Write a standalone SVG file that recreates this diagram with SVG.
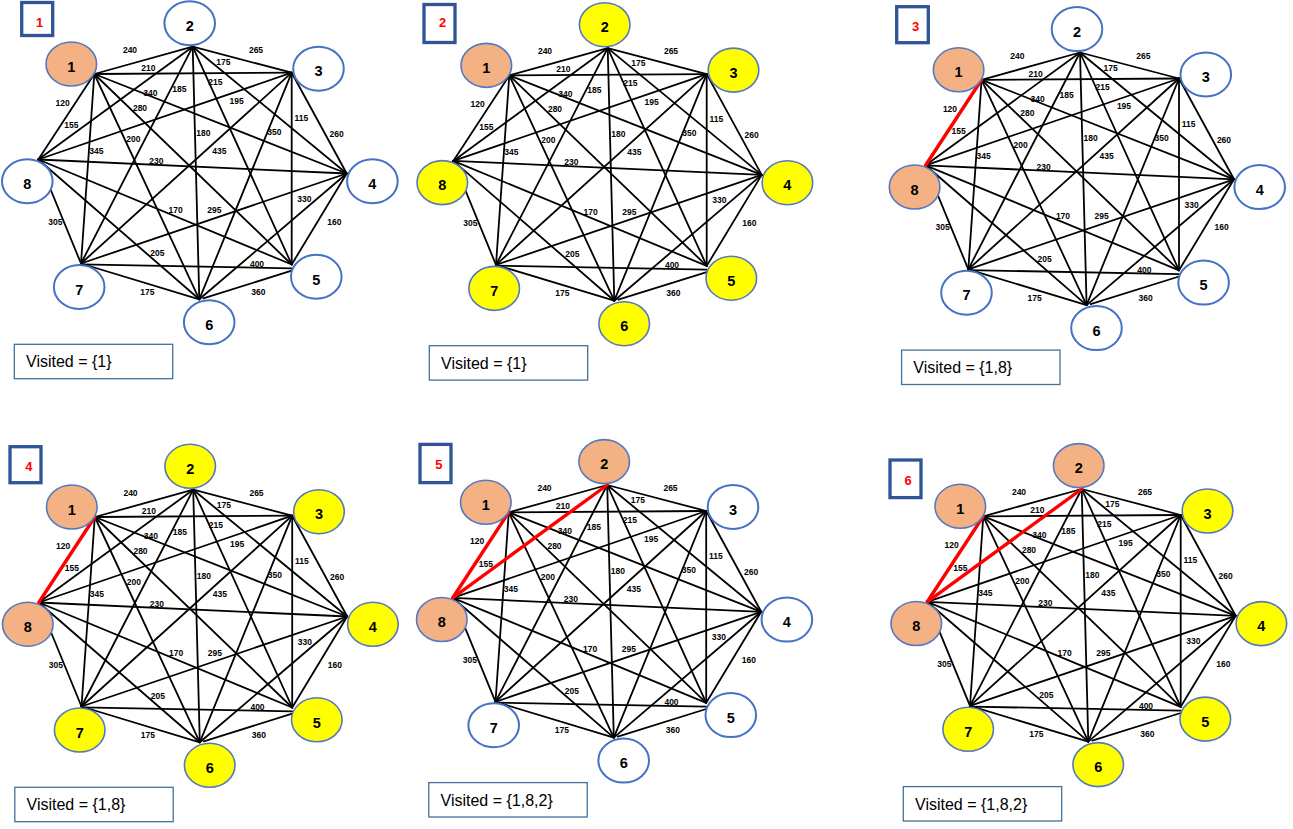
<svg xmlns="http://www.w3.org/2000/svg" xmlns:xlink="http://www.w3.org/1999/xlink" width="1293" height="829" viewBox="0 0 1293 829">
<style>
.e{stroke:#000;stroke-width:1.8;stroke-linecap:round}
.r{stroke:#FF0000;stroke-width:3.4;stroke-linecap:round}
.w{font-family:"Liberation Sans",Arial,sans-serif;font-weight:bold;font-size:8.5px;text-anchor:middle;fill:#000}
.nw{fill:#fff;stroke:#4472C4;stroke-width:2}
.no{fill:#F4B183;stroke:#5479C2;stroke-width:1.6}
.ny{fill:#FFFF00;stroke:#5479C2;stroke-width:1.6}
.nt{font-family:"Liberation Sans",Arial,sans-serif;font-weight:bold;font-size:14.5px;text-anchor:middle;fill:#000}
.sb{fill:#fff;stroke:#2F5597;stroke-width:3.3}
.st{font-family:"Liberation Sans",Arial,sans-serif;font-weight:bold;font-size:13px;text-anchor:middle;fill:#FF0000}
.vb{fill:#fff;stroke:#41719C;stroke-width:1.3}
.vt{font-family:"Liberation Sans",Arial,sans-serif;font-size:16px;fill:#000}
</style>
<defs>
<g id="edges">
<line class="e" x1="94.3" y1="74" x2="192.7" y2="46.7"/>
<line class="e" x1="94.3" y1="74" x2="291.7" y2="72.7"/>
<line class="e" x1="94.3" y1="74" x2="346.7" y2="173.5"/>
<line class="e" x1="94.3" y1="74" x2="291.7" y2="264.5"/>
<line class="e" x1="94.3" y1="74" x2="199.3" y2="299.3"/>
<line class="e" x1="94.3" y1="74" x2="81" y2="263.5"/>
<line class="e" x1="94.3" y1="74" x2="38.3" y2="159.5"/>
<line class="e" x1="192.7" y1="46.7" x2="291.7" y2="72.7"/>
<line class="e" x1="192.7" y1="46.7" x2="346.7" y2="173.5"/>
<line class="e" x1="192.7" y1="46.7" x2="291.7" y2="264.5"/>
<line class="e" x1="192.7" y1="46.7" x2="199.3" y2="299.3"/>
<line class="e" x1="192.7" y1="46.7" x2="81" y2="263.5"/>
<line class="e" x1="192.7" y1="46.7" x2="38.3" y2="159.5"/>
<line class="e" x1="291.7" y1="72.7" x2="346.7" y2="173.5"/>
<line class="e" x1="291.7" y1="72.7" x2="291.7" y2="264.5"/>
<line class="e" x1="291.7" y1="72.7" x2="199.3" y2="299.3"/>
<line class="e" x1="291.7" y1="72.7" x2="81" y2="263.5"/>
<line class="e" x1="291.7" y1="72.7" x2="38.3" y2="159.5"/>
<line class="e" x1="346.7" y1="173.5" x2="291.7" y2="264.5"/>
<line class="e" x1="346.7" y1="173.5" x2="199.3" y2="299.3"/>
<line class="e" x1="346.7" y1="173.5" x2="81" y2="263.5"/>
<line class="e" x1="346.7" y1="173.5" x2="38.3" y2="159.5"/>
<line class="e" x1="291.7" y1="270.7" x2="203.3" y2="298.3"/>
<line class="e" x1="291.7" y1="268.3" x2="81" y2="264.3"/>
<line class="e" x1="291.7" y1="264.5" x2="38.3" y2="159.5"/>
<line class="e" x1="199.3" y1="299.3" x2="81" y2="263.5"/>
<line class="e" x1="199.3" y1="299.3" x2="38.3" y2="159.5"/>
<line class="e" x1="81" y1="263.5" x2="38.3" y2="159.5"/>
</g>
<g id="weights" class="w">
<text x="130" y="53">240</text>
<text x="256" y="53">265</text>
<text x="148.3" y="71">210</text>
<text x="223.3" y="65">175</text>
<text x="150.3" y="96">340</text>
<text x="179.3" y="92">185</text>
<text x="215.3" y="84.7">215</text>
<text x="236.7" y="103.7">195</text>
<text x="62.7" y="106">120</text>
<text x="140" y="110.7">280</text>
<text x="71.3" y="128.3">155</text>
<text x="301.3" y="121">115</text>
<text x="336.7" y="137">260</text>
<text x="203.3" y="135.7">180</text>
<text x="274.3" y="135">350</text>
<text x="133.3" y="142">200</text>
<text x="96.3" y="153.7">345</text>
<text x="219.3" y="153.7">435</text>
<text x="156.3" y="164">230</text>
<text x="304.3" y="202">330</text>
<text x="175.7" y="213.3">170</text>
<text x="214.3" y="213.3">295</text>
<text x="55.3" y="224.7">305</text>
<text x="334.3" y="224.7">160</text>
<text x="157.3" y="256">205</text>
<text x="257" y="267">400</text>
<text x="147.3" y="295">175</text>
<text x="258.3" y="295">360</text>
</g>
</defs>

<!-- Panel 1 -->
<g id="panel1" transform="translate(0,0)">
<g id="p1-connectors"><use xlink:href="#edges"/><use xlink:href="#weights"/></g>
<g id="p1-n1"><ellipse class="no" cx="71.3" cy="64" rx="25.3" ry="22"/><text class="nt" x="71.3" y="71.7">1</text></g>
<g id="p1-n2"><ellipse class="nw" cx="189.7" cy="23.3" rx="25.3" ry="22"/><text class="nt" x="189.7" y="31">2</text></g>
<g id="p1-n3"><ellipse class="nw" cx="318.5" cy="68.7" rx="25.3" ry="22"/><text class="nt" x="318.5" y="76.4">3</text></g>
<g id="p1-n4"><ellipse class="nw" cx="372.4" cy="181.3" rx="25.3" ry="22"/><text class="nt" x="372.4" y="189">4</text></g>
<g id="p1-n5"><ellipse class="nw" cx="316.3" cy="276.8" rx="25.3" ry="22"/><text class="nt" x="316.3" y="284.5">5</text></g>
<g id="p1-n6"><ellipse class="nw" cx="209.2" cy="322.3" rx="25.3" ry="22"/><text class="nt" x="209.2" y="330">6</text></g>
<g id="p1-n7"><ellipse class="nw" cx="79.2" cy="287" rx="25.3" ry="22"/><text class="nt" x="79.2" y="294.7">7</text></g>
<g id="p1-n8"><ellipse class="nw" cx="27.3" cy="181.2" rx="25.3" ry="22"/><text class="nt" x="27.3" y="188.9">8</text></g>
<g id="p1-visited"><rect class="vb" x="14.3" y="344.3" width="158.4" height="34.4"/><text class="vt" x="26" y="367.3">Visited = {1}</text></g>
</g>
<g id="p1-step"><rect class="sb" x="21.7" y="2.5" width="31" height="33"/><text class="st" x="39.5" y="26.8">1</text></g>

<!-- Panel 2 -->
<g id="panel2" transform="translate(415,1.4)">
<g id="p2-connectors"><use xlink:href="#edges"/><use xlink:href="#weights"/></g>
<g id="p2-n1"><ellipse class="no" cx="71.3" cy="64" rx="25.3" ry="22"/><text class="nt" x="71.3" y="71.7">1</text></g>
<g id="p2-n2"><ellipse class="ny" cx="189.7" cy="23.3" rx="25.3" ry="22"/><text class="nt" x="189.7" y="31">2</text></g>
<g id="p2-n3"><ellipse class="ny" cx="318.5" cy="68.7" rx="25.3" ry="22"/><text class="nt" x="318.5" y="76.4">3</text></g>
<g id="p2-n4"><ellipse class="ny" cx="372.4" cy="181.3" rx="25.3" ry="22"/><text class="nt" x="372.4" y="189">4</text></g>
<g id="p2-n5"><ellipse class="ny" cx="316.3" cy="276.8" rx="25.3" ry="22"/><text class="nt" x="316.3" y="284.5">5</text></g>
<g id="p2-n6"><ellipse class="ny" cx="209.2" cy="322.3" rx="25.3" ry="22"/><text class="nt" x="209.2" y="330">6</text></g>
<g id="p2-n7"><ellipse class="ny" cx="79.2" cy="287" rx="25.3" ry="22"/><text class="nt" x="79.2" y="294.7">7</text></g>
<g id="p2-n8"><ellipse class="ny" cx="27.3" cy="181.2" rx="25.3" ry="22"/><text class="nt" x="27.3" y="188.9">8</text></g>
<g id="p2-visited"><rect class="vb" x="14.3" y="344.3" width="158.4" height="34.4"/><text class="vt" x="26" y="367.3">Visited = {1}</text></g>
</g>
<g id="p2-step"><rect class="sb" x="424" y="4.5" width="31" height="38"/><text class="st" x="442.5" y="27">2</text></g>

<!-- Panel 3 -->
<g id="panel3" transform="translate(887.3,5.8)">
<g id="p3-connectors"><use xlink:href="#edges"/><line class="r" x1="94.3" y1="74" x2="38.3" y2="159.5"/><use xlink:href="#weights"/></g>
<g id="p3-n1"><ellipse class="no" cx="71.3" cy="64" rx="25.3" ry="22"/><text class="nt" x="71.3" y="71.7">1</text></g>
<g id="p3-n2"><ellipse class="nw" cx="189.7" cy="23.3" rx="25.3" ry="22"/><text class="nt" x="189.7" y="31">2</text></g>
<g id="p3-n3"><ellipse class="nw" cx="318.5" cy="68.7" rx="25.3" ry="22"/><text class="nt" x="318.5" y="76.4">3</text></g>
<g id="p3-n4"><ellipse class="nw" cx="372.4" cy="181.3" rx="25.3" ry="22"/><text class="nt" x="372.4" y="189">4</text></g>
<g id="p3-n5"><ellipse class="nw" cx="316.3" cy="276.8" rx="25.3" ry="22"/><text class="nt" x="316.3" y="284.5">5</text></g>
<g id="p3-n6"><ellipse class="nw" cx="209.2" cy="322.3" rx="25.3" ry="22"/><text class="nt" x="209.2" y="330">6</text></g>
<g id="p3-n7"><ellipse class="nw" cx="79.2" cy="287" rx="25.3" ry="22"/><text class="nt" x="79.2" y="294.7">7</text></g>
<g id="p3-n8"><ellipse class="no" cx="27.3" cy="181.2" rx="25.3" ry="22"/><text class="nt" x="27.3" y="188.9">8</text></g>
<g id="p3-visited"><rect class="vb" x="14.3" y="344.3" width="158.4" height="34.4"/><text class="vt" x="26" y="367.3">Visited = {1,8}</text></g>
</g>
<g id="p3-step"><rect class="sb" x="896.7" y="6.7" width="31.6" height="36"/><text class="st" x="915.5" y="30.5">3</text></g>

<!-- Panel 4 -->
<g id="panel4" transform="translate(0.5,443)">
<g id="p4-connectors"><use xlink:href="#edges"/><line class="r" x1="94.3" y1="74" x2="38.3" y2="159.5"/><use xlink:href="#weights"/></g>
<g id="p4-n1"><ellipse class="no" cx="71.3" cy="64" rx="25.3" ry="22"/><text class="nt" x="71.3" y="71.7">1</text></g>
<g id="p4-n2"><ellipse class="ny" cx="189.7" cy="23.3" rx="25.3" ry="22"/><text class="nt" x="189.7" y="31">2</text></g>
<g id="p4-n3"><ellipse class="ny" cx="318.5" cy="68.7" rx="25.3" ry="22"/><text class="nt" x="318.5" y="76.4">3</text></g>
<g id="p4-n4"><ellipse class="ny" cx="372.4" cy="181.3" rx="25.3" ry="22"/><text class="nt" x="372.4" y="189">4</text></g>
<g id="p4-n5"><ellipse class="ny" cx="316.3" cy="276.8" rx="25.3" ry="22"/><text class="nt" x="316.3" y="284.5">5</text></g>
<g id="p4-n6"><ellipse class="ny" cx="209.2" cy="322.3" rx="25.3" ry="22"/><text class="nt" x="209.2" y="330">6</text></g>
<g id="p4-n7"><ellipse class="ny" cx="79.2" cy="287" rx="25.3" ry="22"/><text class="nt" x="79.2" y="294.7">7</text></g>
<g id="p4-n8"><ellipse class="no" cx="27.3" cy="181.2" rx="25.3" ry="22"/><text class="nt" x="27.3" y="188.9">8</text></g>
<g id="p4-visited"><rect class="vb" x="14.3" y="344.3" width="158.4" height="34.4"/><text class="vt" x="26" y="367.3">Visited = {1,8}</text></g>
</g>
<g id="p4-step"><rect class="sb" x="10" y="446.7" width="31" height="36"/><text class="st" x="28.8" y="471.3">4</text></g>

<!-- Panel 5 -->
<g id="panel5" transform="translate(414.5,438.3)">
<g id="p5-connectors"><use xlink:href="#edges"/><line class="r" x1="94.3" y1="74" x2="38.3" y2="159.5"/><line class="r" x1="192.7" y1="46.7" x2="38.3" y2="159.5"/><use xlink:href="#weights"/></g>
<g id="p5-n1"><ellipse class="no" cx="71.3" cy="64" rx="25.3" ry="22"/><text class="nt" x="71.3" y="71.7">1</text></g>
<g id="p5-n2"><ellipse class="no" cx="189.7" cy="23.3" rx="25.3" ry="22"/><text class="nt" x="189.7" y="31">2</text></g>
<g id="p5-n3"><ellipse class="nw" cx="318.5" cy="68.7" rx="25.3" ry="22"/><text class="nt" x="318.5" y="76.4">3</text></g>
<g id="p5-n4"><ellipse class="nw" cx="372.4" cy="181.3" rx="25.3" ry="22"/><text class="nt" x="372.4" y="189">4</text></g>
<g id="p5-n5"><ellipse class="nw" cx="316.3" cy="276.8" rx="25.3" ry="22"/><text class="nt" x="316.3" y="284.5">5</text></g>
<g id="p5-n6"><ellipse class="nw" cx="209.2" cy="322.3" rx="25.3" ry="22"/><text class="nt" x="209.2" y="330">6</text></g>
<g id="p5-n7"><ellipse class="nw" cx="79.2" cy="287" rx="25.3" ry="22"/><text class="nt" x="79.2" y="294.7">7</text></g>
<g id="p5-n8"><ellipse class="no" cx="27.3" cy="181.2" rx="25.3" ry="22"/><text class="nt" x="27.3" y="188.9">8</text></g>
<g id="p5-visited"><rect class="vb" x="14.3" y="344.3" width="158.4" height="34.4"/><text class="vt" x="26" y="367.3">Visited = {1,8,2}</text></g>
</g>
<g id="p5-step"><rect class="sb" x="420" y="444.4" width="31" height="38.2"/><text class="st" x="438.8" y="468.6">5</text></g>

<!-- Panel 6 -->
<g id="panel6" transform="translate(889,442.3)">
<g id="p6-connectors"><use xlink:href="#edges"/><line class="r" x1="94.3" y1="74" x2="38.3" y2="159.5"/><line class="r" x1="192.7" y1="46.7" x2="38.3" y2="159.5"/><use xlink:href="#weights"/></g>
<g id="p6-n1"><ellipse class="no" cx="71.3" cy="64" rx="25.3" ry="22"/><text class="nt" x="71.3" y="71.7">1</text></g>
<g id="p6-n2"><ellipse class="no" cx="189.7" cy="23.3" rx="25.3" ry="22"/><text class="nt" x="189.7" y="31">2</text></g>
<g id="p6-n3"><ellipse class="ny" cx="318.5" cy="68.7" rx="25.3" ry="22"/><text class="nt" x="318.5" y="76.4">3</text></g>
<g id="p6-n4"><ellipse class="ny" cx="372.4" cy="181.3" rx="25.3" ry="22"/><text class="nt" x="372.4" y="189">4</text></g>
<g id="p6-n5"><ellipse class="ny" cx="316.3" cy="276.8" rx="25.3" ry="22"/><text class="nt" x="316.3" y="284.5">5</text></g>
<g id="p6-n6"><ellipse class="ny" cx="209.2" cy="322.3" rx="25.3" ry="22"/><text class="nt" x="209.2" y="330">6</text></g>
<g id="p6-n7"><ellipse class="ny" cx="79.2" cy="287" rx="25.3" ry="22"/><text class="nt" x="79.2" y="294.7">7</text></g>
<g id="p6-n8"><ellipse class="no" cx="27.3" cy="181.2" rx="25.3" ry="22"/><text class="nt" x="27.3" y="188.9">8</text></g>
<g id="p6-visited"><rect class="vb" x="14.3" y="344.3" width="158.4" height="34.4"/><text class="vt" x="26" y="367.3">Visited = {1,8,2}</text></g>
</g>
<g id="p6-step"><rect class="sb" x="890" y="460" width="31" height="37.6"/><text class="st" x="908.2" y="484.6">6</text></g>
</svg>
